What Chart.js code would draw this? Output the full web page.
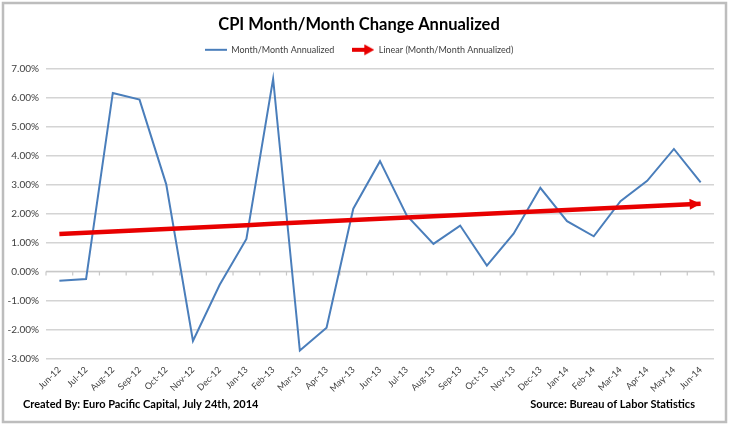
<!DOCTYPE html>
<html>
<head>
<meta charset="utf-8">
<script src="https://cdn.jsdelivr.net/npm/chart.js@4/dist/chart.umd.min.js"></script>
<style>
html,body{margin:0;padding:0;background:#fff;}
#wrap{width:729px;height:425px;position:relative;}
</style>
</head>
<body>
<div id="wrap"><canvas id="c" width="729" height="425"></canvas></div>
<script>
const categories = ["Jun-12","Jul-12","Aug-12","Sep-12","Oct-12","Nov-12","Dec-12","Jan-13","Feb-13","Mar-13","Apr-13","May-13","Jun-13","Jul-13","Aug-13","Sep-13","Oct-13","Nov-13","Dec-13","Jan-14","Feb-14","Mar-14","Apr-14","May-14","Jun-14"];
const momAnnualized = [-0.32,-0.26,6.15,5.92,3.00,-2.40,-0.46,1.12,6.64,-2.73,-1.94,2.16,3.80,1.93,0.95,1.58,0.20,1.30,2.88,1.73,1.21,2.42,3.12,4.22,3.07];
const yTicks = {min:-3, max:7, step:1};
const titleText = "CPI Month/Month Change Annualized";
const footerLeft = "Created By: Euro Pacific Capital, July 24th, 2014";
const footerRight = "Source: Bureau of Labor Statistics";

// Linear trendline (least squares) of the series, as Excel's "Linear" trendline
function linearFit(vals){
  const n = vals.length;
  let sx=0, sy=0, sxx=0, sxy=0;
  vals.forEach((v,i)=>{sx+=i; sy+=v; sxx+=i*i; sxy+=i*v;});
  const b = (n*sxy - sx*sy)/(n*sxx - sx*sx);
  const a = (sy - b*sx)/n;
  return vals.map((v,i)=>a+b*i);
}
const trend = linearFit(momAnnualized);

const BLUE = '#4a7ebb';
const RED = '#e80000';
const FONT = "Lato, 'Open Sans', sans-serif";

function legendLineIcon(){
  const c = document.createElement('canvas'); c.width=22; c.height=6;
  const x = c.getContext('2d'); x.strokeStyle=BLUE; x.lineWidth=2;
  x.beginPath(); x.moveTo(0,3); x.lineTo(22,3); x.stroke(); return c;
}
function legendArrowIcon(){
  const c = document.createElement('canvas'); c.width=22; c.height=12;
  const x = c.getContext('2d'); x.strokeStyle=RED; x.fillStyle=RED; x.lineWidth=4;
  x.beginPath(); x.moveTo(0,6); x.lineTo(13,6); x.stroke();
  x.beginPath(); x.moveTo(22,6); x.lineTo(12,0.5); x.lineTo(12,11.5); x.closePath(); x.fill(); return c;
}
const icons = [legendLineIcon(), legendArrowIcon()];

const framePlugin = {
  id:'frame',
  beforeDraw(chart){
    const ctx = chart.ctx; ctx.save();
    ctx.fillStyle='#fff'; ctx.fillRect(0,0,chart.width,chart.height);
    ctx.strokeStyle='#bdbdbd'; ctx.lineWidth=2.5;
    ctx.strokeRect(3,3,chart.width-6,chart.height-6);
    ctx.restore();
  },
  afterDraw(chart){
    const ctx = chart.ctx; ctx.save();
    ctx.font = "bold 11px " + FONT; ctx.fillStyle='#000'; ctx.textBaseline='middle';
    ctx.textAlign='left'; ctx.fillText(footerLeft, 23, 404);
    ctx.textAlign='right'; ctx.fillText(footerRight, 695, 404);
    ctx.restore();
  }
};

const zeroAxisPlugin = {
  id:'zeroAxis',
  beforeDatasetsDraw(chart){
    const x = chart.scales.x, y = chart.scales.y, ctx = chart.ctx;
    const y0 = y.getPixelForValue(0);
    const half = (x.getPixelForValue(1) - x.getPixelForValue(0))/2;
    ctx.save(); ctx.strokeStyle='#c8c8c8'; ctx.lineWidth=1.2;
    ctx.beginPath(); ctx.moveTo(chart.chartArea.left, y0); ctx.lineTo(chart.chartArea.right, y0);
    for(let i=0;i<=categories.length;i++){
      const px = x.getPixelForValue(0) - half + i*2*half;
      ctx.moveTo(px, y0); ctx.lineTo(px, y0+4);
    }
    ctx.stroke(); ctx.restore();
  },
  afterDatasetsDraw(chart){
    const meta = chart.getDatasetMeta(1);
    const pts = meta.data; if(pts.length<2) return;
    const p1 = pts[pts.length-2], p2 = pts[pts.length-1];
    const ang = Math.atan2(p2.y-p1.y, p2.x-p1.x);
    const ctx = chart.ctx; ctx.save(); ctx.translate(p2.x, p2.y); ctx.rotate(ang);
    ctx.fillStyle=RED; ctx.beginPath(); ctx.moveTo(0,0); ctx.lineTo(-11,-5.5); ctx.lineTo(-11,5.5); ctx.closePath(); ctx.fill();
    ctx.restore();
  }
};

new Chart(document.getElementById('c'), {
  type:'line',
  data:{
    labels: categories,
    datasets:[
      {label:'Month/Month Annualized', data: momAnnualized, borderColor:BLUE, backgroundColor:BLUE, borderWidth:2, pointRadius:0, tension:0, order:2},
      {label:'Linear (Month/Month Annualized)', data: trend, borderColor:RED, backgroundColor:RED, borderWidth:4.5, pointRadius:0, tension:0, order:1}
    ]
  },
  options:{
    responsive:false, animation:false,
    layout:{padding:{left:4, right:15, top:4, bottom:25}},
    plugins:{
      tooltip:{enabled:false},
      title:{display:true, text:titleText, color:'#000', font:{family:FONT, size:16.5, weight:'bold'}, padding:{top:10.5, bottom:-7}},
      legend:{
        display:true,
        labels:{
          font:{family:FONT, size:9}, color:'#404040', usePointStyle:true, pointStyleWidth:22, padding:18,
          generateLabels(chart){
            const items = Chart.defaults.plugins.legend.labels.generateLabels(chart);
            items.sort((a,b)=>a.datasetIndex-b.datasetIndex);
            items.forEach(it=>{ it.pointStyle = icons[it.datasetIndex]; });
            return items;
          }
        }
      }
    },
    scales:{
      x:{
        offset:true,
        grid:{display:false, drawTicks:false},
        border:{display:false},
        ticks:{minRotation:45, maxRotation:45, autoSkip:false, font:{family:FONT, size:9}, color:'#404040', padding:6}
      },
      xSpacer:{
        position:'top', type:'category', display:true,
        grid:{display:false, drawTicks:false}, border:{display:false},
        ticks:{display:false},
        afterFit(s){ s.height = 4; }
      },
      y:{
        min:yTicks.min, max:yTicks.max,
        afterFit(s){ s.width = 42; },
        grid:{color:'#d4d4d4', lineWidth:1.5, drawTicks:false},
        border:{display:false},
        ticks:{stepSize:yTicks.step, font:{family:FONT, size:10}, color:'#404040', padding:7,
          callback:v=>v.toFixed(2)+'%'}
      }
    }
  },
  plugins:[framePlugin, zeroAxisPlugin]
});
</script>
</body>
</html>
